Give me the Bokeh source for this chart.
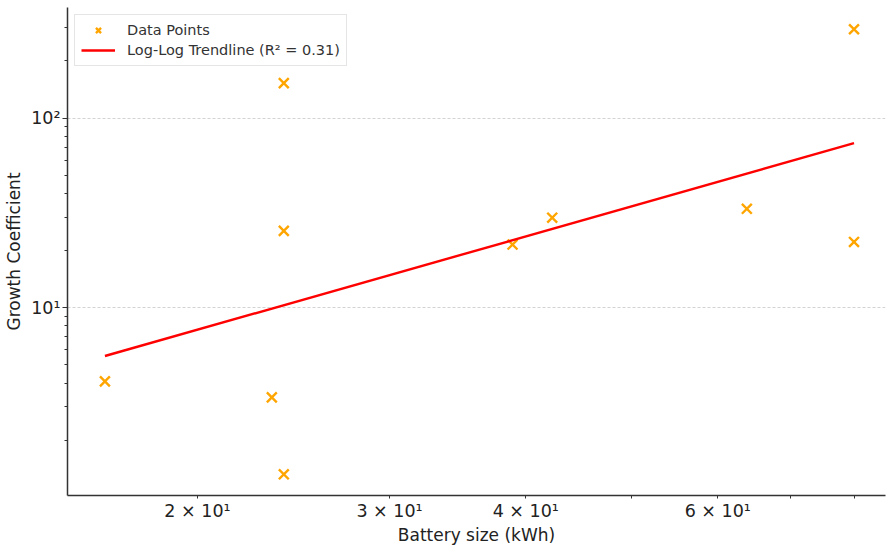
import numpy as np
from bokeh.plotting import figure
from bokeh.models import Range1d, FixedTicker, Legend, LegendItem, ColumnDataSource, AllLabels
from bokeh.embed import file_html
from bokeh.resources import INLINE

# Data
battery_kwh = [16.45, 23.4, 24.0, 24.0, 24.0, 38.9, 42.3, 63.8, 80.0, 80.0]
growth_coef = [4.08, 3.36, 1.32, 25.4, 152.8, 21.5, 29.8, 33.2, 22.2, 294.0]

x_ticks = [20, 30, 40, 60]
x_minor = [50, 70, 80]
x_tick_labels = {20: "2 × 10¹", 30: "3 × 10¹", 40: "4 × 10¹", 60: "6 × 10¹"}
y_ticks = [10, 100]
y_minor = [2, 3, 4, 5, 6, 7, 8, 9, 20, 30, 40, 50, 60, 70, 80, 90, 200, 300]
y_tick_labels = {10: "10¹", 100: "10²"}
trend_label = "Log-Log Trendline (R² = 0.31)"
points_label = "Data Points"

# Log-log least squares fit
lx = np.log10(battery_kwh)
ly = np.log10(growth_coef)
slope, intercept = np.polyfit(lx, ly, 1)
tx = np.array([min(battery_kwh), max(battery_kwh)])
ty = 10 ** (intercept + slope * np.log10(tx))

FONT = "DejaVu Sans"

p = figure(width=887, height=547, x_axis_type="log", y_axis_type="log",
           x_range=Range1d(15.2, 85.5), y_range=Range1d(1.02, 383),
           output_backend="svg", toolbar_location=None,
           min_border_left=67, min_border_right=2, min_border_top=7, min_border_bottom=51)
p.outline_line_color = None
p.background_fill_color = "white"

src = ColumnDataSource(dict(x=battery_kwh, y=growth_coef))
pts = p.scatter("x", "y", source=src, marker="x", size=14, line_color="#FFA500", line_width=2.4)
ln = p.line(tx, ty, line_color="#FF0000", line_width=2.4)

for ax in (p.xaxis[0], p.yaxis[0]):
    ax.axis_line_color = "#333333"
    ax.axis_line_width = 1.5
    ax.major_tick_line_color = "#333333"
    ax.minor_tick_line_color = "#333333"
    ax.major_label_text_font = FONT
    ax.major_label_text_font_size = "17.5px"
    ax.major_label_text_color = "#222222"
    ax.major_label_policy = AllLabels()
    ax.major_label_standoff = 2
    ax.axis_label_text_font = FONT
    ax.axis_label_text_font_size = "17px"
    ax.axis_label_text_font_style = "normal"
    ax.axis_label_text_color = "#222222"
    ax.axis_label_standoff = 1
    ax.major_tick_in = 0
    ax.minor_tick_in = 0

p.xaxis.ticker = FixedTicker(ticks=x_ticks, minor_ticks=x_minor)
p.xaxis.major_label_overrides = x_tick_labels
p.xaxis.major_tick_out = 3
p.xaxis.minor_tick_out = 3
p.xaxis.axis_label = "Battery size (kWh)"

p.yaxis.ticker = FixedTicker(ticks=y_ticks, minor_ticks=y_minor)
p.yaxis.major_label_overrides = y_tick_labels
p.yaxis.major_tick_out = 5
p.yaxis.minor_tick_out = 3
p.yaxis.axis_label = "Growth Coefficient"
p.yaxis.axis_label_standoff = 4

p.xgrid.grid_line_color = None
p.ygrid.grid_line_color = "#c8c8c8"
p.ygrid.grid_line_dash = "3 2"
p.ygrid.grid_line_width = 0.8
p.ygrid.minor_grid_line_color = None

legend = Legend(items=[LegendItem(label=points_label, renderers=[pts]),
                       LegendItem(label=trend_label, renderers=[ln])],
                location="top_left", margin=7, padding=6, spacing=2,
                label_text_font=FONT, label_text_font_size="14.5px",
                label_text_color="#333333", glyph_width=34, glyph_height=18,
                border_line_color="#cccccc", border_line_width=1,
                background_fill_alpha=0.9, label_standoff=12)
p.add_layout(legend)

open("out.html", "w").write(file_html(p, INLINE))
